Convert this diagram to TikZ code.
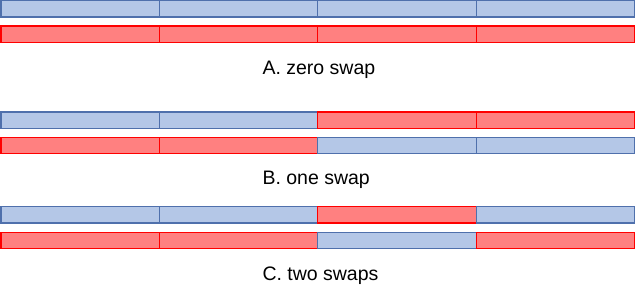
\documentclass[tikz,border=0pt]{standalone}
\usepackage{fontspec}
\setmainfont{Liberation Sans}
\usetikzlibrary{positioning}
\definecolor{bluefill}{HTML}{B4C7E7}
\definecolor{blueline}{HTML}{4F70AC}
\definecolor{redfill}{HTML}{FF8080}
\definecolor{redline}{HTML}{FF0000}

\begin{document}
\begin{tikzpicture}[
  x=1pt,y=-1pt,
  node distance=0pt,                 % segments touch each other
  every node/.style={inner sep=0pt,outer sep=0pt},
  seg/.style={minimum width=158.4pt,minimum height=16.3pt,line width=1.3pt},
  blueseg/.style={seg,draw=blueline,fill=bluefill},
  redseg/.style={seg,draw=redline,fill=redfill},
  caption/.style={anchor=west,font=\fontsize{19.5}{22}\selectfont}
]
\useasboundingbox (0,0) rectangle (636,290);

% A. zero swap
\node[blueseg] (a1) at (80.2,8.7) {};
\node[blueseg,right=of a1] (a2) {};
\node[blueseg,right=of a2] (a3) {};
\node[blueseg,right=of a3] (a4) {};
\node[redseg] (a5) at (80.2,34.2) {};
\node[redseg,right=of a5] (a6) {};
\node[redseg,right=of a6] (a7) {};
\node[redseg,right=of a7] (a8) {};
\node[caption] (alabel) at (262.5,70) {A. zero swap};

% B. one swap
\node[blueseg] (b1) at (80.2,120) {};
\node[blueseg,right=of b1] (b2) {};
\node[redseg,right=of b2] (b3) {};
\node[redseg,right=of b3] (b4) {};
\node[redseg] (b5) at (80.2,145.3) {};
\node[redseg,right=of b5] (b6) {};
\node[blueseg,right=of b6] (b7) {};
\node[blueseg,right=of b7] (b8) {};
\node[caption] (blabel) at (262.5,180) {B. one swap};

% C. two swaps
\node[blueseg] (c1) at (80.2,214.8) {};
\node[blueseg,right=of c1] (c2) {};
\node[redseg,right=of c2] (c3) {};
\node[blueseg,right=of c3] (c4) {};
\node[redseg] (c5) at (80.2,240.3) {};
\node[redseg,right=of c5] (c6) {};
\node[blueseg,right=of c6] (c7) {};
\node[redseg,right=of c7] (c8) {};
\node[caption] (clabel) at (262.5,276) {C. two swaps};
\end{tikzpicture}
\end{document}
